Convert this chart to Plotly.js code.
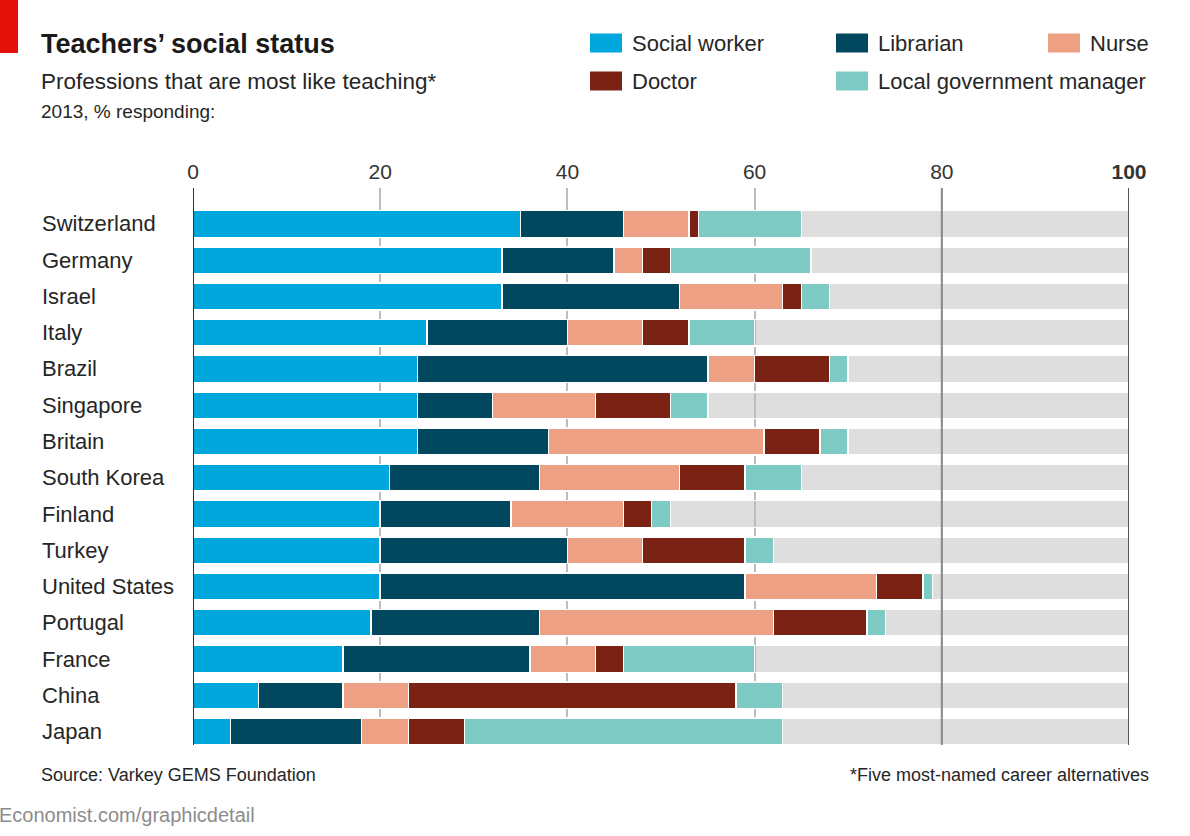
<!DOCTYPE html>
<html>
<head>
<meta charset="utf-8">
<script src="https://cdn.plot.ly/plotly-3.0.1.min.js"></script>
<style>
  html, body { margin: 0; padding: 0; background: #ffffff; }
  #chart { width: 1190px; height: 836px; }
</style>
</head>
<body>
<div id="chart"></div>
<script>
// ---- Data (2013, % responding) ----
const countries = ["Switzerland", "Germany", "Israel", "Italy", "Brazil", "Singapore", "Britain",
  "South Korea", "Finland", "Turkey", "United States", "Portugal", "France", "China", "Japan"];
const socialWorker = [35, 33, 33, 25, 24, 24, 24, 21, 20, 20, 20, 19, 16, 7, 4];
const librarian    = [11, 12, 19, 15, 31, 8, 14, 16, 14, 20, 39, 18, 20, 9, 14];
const nurse        = [7, 3, 11, 8, 5, 11, 23, 15, 12, 8, 14, 25, 7, 7, 5];
const doctor       = [1, 3, 2, 5, 8, 8, 6, 7, 3, 11, 5, 10, 3, 35, 6];
const localGov     = [11, 15, 3, 7, 2, 4, 3, 6, 2, 3, 1, 2, 14, 5, 34];
const seriesNames  = ["Social worker", "Librarian", "Nurse", "Doctor", "Local government manager"];
const tickValues   = [0, 20, 40, 60, 80, 100];
const tickLabels   = ["0", "20", "40", "60", "80", "<b>100</b>"];

// remainder up to 100% (grey background part of each bar)
const remainder = countries.map((c, i) =>
  100 - socialWorker[i] - librarian[i] - nurse[i] - doctor[i] - localGov[i]);

const colors = ["#00a7dc", "#01475e", "#eda083", "#7a2214", "#7ecbc6"];
const FONT = "'Liberation Sans', Arial, sans-serif";

// geometry helpers (pixel -> paper)
const W = 1190, H = 836;
const M = { l: 193, r: 61, t: 188, b: 91 };
const PW = W - M.l - M.r, PH = H - M.t - M.b;
const px = x => (x - M.l) / PW;
const py = y => (H - M.b - y) / PH;

const seriesData = [socialWorker, librarian, nurse, doctor, localGov];
const traces = seriesData.map((vals, k) => ({
  type: "bar",
  orientation: "h",
  name: seriesNames[k],
  y: countries,
  x: vals,
  marker: { color: colors[k], line: { color: "#ffffff", width: 1.5 } },
  hoverinfo: "name+x"
}));
traces.push({
  type: "bar",
  orientation: "h",
  name: "Other",
  y: countries,
  x: remainder,
  marker: { color: "rgba(190,190,190,0.5)", line: { color: "#ffffff", width: 1.5 } },
  hoverinfo: "skip"
});

const shapes = [
  // red corner tag
  { type: "rect", xref: "paper", yref: "paper", x0: px(0), x1: px(18), y0: py(53), y1: py(0),
    fillcolor: "#e3120b", line: { width: 0 } },
  // axis lines drawn through x scale
  { type: "line", xref: "x", yref: "paper", x0: 0, x1: 0, y0: 0, y1: 1, layer: "above",
    line: { color: "#333333", width: 2 } },
  { type: "line", xref: "x", yref: "paper", x0: 80, x1: 80, y0: 0, y1: 1, layer: "above",
    line: { color: "#8a8a8a", width: 2 } },
  { type: "line", xref: "x", yref: "paper", x0: 100, x1: 100, y0: 0, y1: 1, layer: "above",
    line: { color: "#555555", width: 2 } }
];

const annotations = [];
// country labels (left aligned)
countries.forEach(c => annotations.push({
  xref: "paper", yref: "y", x: px(40), y: c, xanchor: "left", yanchor: "middle",
  text: c, showarrow: false, font: { family: FONT, size: 22, color: "#262626" }
}));

// legend (manual grid)
const legendPos = [
  { x: 590, y: 43 }, { x: 836, y: 43 }, { x: 1048, y: 43 },
  { x: 590, y: 81 }, { x: 836, y: 81 }
];
legendPos.forEach((p, k) => {
  shapes.push({ type: "rect", xref: "paper", yref: "paper",
    x0: px(p.x), x1: px(p.x + 32), y0: py(p.y + 9.5), y1: py(p.y - 9.5),
    fillcolor: colors[k], line: { width: 0 } });
  annotations.push({ xref: "paper", yref: "paper", x: px(p.x + 40), y: py(p.y),
    xanchor: "left", yanchor: "middle", text: seriesNames[k], showarrow: false,
    font: { family: FONT, size: 22, color: "#262626" } });
});

// subtitles / footers
annotations.push(
  { xref: "paper", yref: "paper", x: px(39), y: py(81), xanchor: "left", yanchor: "middle",
    text: "Professions that are most like teaching*", showarrow: false,
    font: { family: FONT, size: 22.5, color: "#262626" } },
  { xref: "paper", yref: "paper", x: px(39), y: py(111), xanchor: "left", yanchor: "middle",
    text: "2013, % responding:", showarrow: false,
    font: { family: FONT, size: 19, color: "#262626" } },
  { xref: "paper", yref: "paper", x: px(39), y: py(775), xanchor: "left", yanchor: "middle",
    text: "Source: Varkey GEMS Foundation", showarrow: false,
    font: { family: FONT, size: 18, color: "#262626" } },
  { xref: "paper", yref: "paper", x: px(1151), y: py(775), xanchor: "right", yanchor: "middle",
    text: "*Five most-named career alternatives", showarrow: false,
    font: { family: FONT, size: 18, color: "#262626" } },
  { xref: "paper", yref: "paper", x: px(-3), y: py(815), xanchor: "left", yanchor: "middle",
    text: "Economist.com/graphicdetail", showarrow: false,
    font: { family: FONT, size: 20, color: "#8c8c8c" } }
);

const layout = {
  width: W, height: H,
  margin: M,
  paper_bgcolor: "#ffffff",
  plot_bgcolor: "#ffffff",
  barmode: "stack",
  bargap: 0.26,
  showlegend: false,
  font: { family: FONT, color: "#222222" },
  title: {
    text: "<b>Teachers’ social status</b>",
    x: 41 / W, xanchor: "left", xref: "container",
    y: 1 - 44 / H, yanchor: "middle", yref: "container",
    font: { family: FONT, size: 27, color: "#1a1a1a" }
  },
  xaxis: {
    range: [0, 100],
    side: "top",
    tickmode: "array",
    tickvals: tickValues,
    ticktext: tickLabels,
    ticks: "",
    ticklabelstandoff: 4,
    showline: false,
    zeroline: false,
    showgrid: true,
    gridcolor: "#bdbdbd",
    gridwidth: 2,
    tickfont: { family: FONT, size: 21, color: "#333333" },
    fixedrange: true
  },
  yaxis: {
    type: "category",
    categoryorder: "array",
    categoryarray: countries,
    range: [14.37, -0.99],
    showticklabels: false,
    showgrid: false,
    zeroline: false,
    showline: false,
    ticks: "",
    fixedrange: true
  },
  shapes: shapes,
  annotations: annotations
};

Plotly.newPlot("chart", traces, layout, { displayModeBar: false, staticPlot: true });
</script>
</body>
</html>
